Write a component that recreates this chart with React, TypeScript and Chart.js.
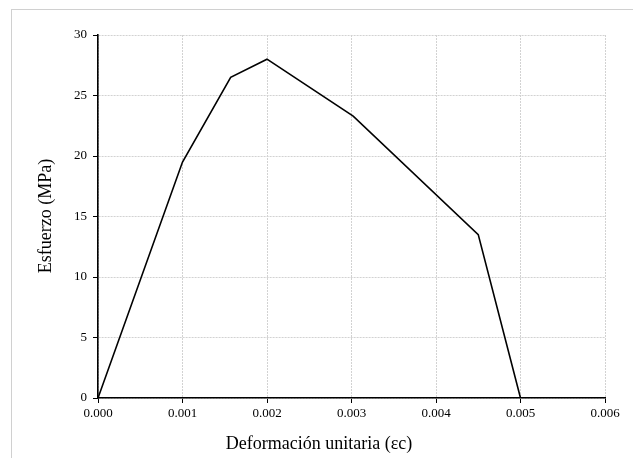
import React, { useEffect, useRef } from "react";
import { Chart, registerables } from "chart.js";

Chart.register(...registerables);

const strainValues = [0, 0.001, 0.00157, 0.002, 0.00302, 0.0045, 0.005];
const stressValues = [0, 19.5, 26.5, 28.0, 23.3, 13.5, 0];
const xTitle = "Deformación unitaria (εc)";
const yTitle = "Esfuerzo (MPa)";

const FONT = "'Liberation Serif', 'Times New Roman', serif";

const titlePlugin = {
  id: "customTitles",
  afterDraw(chart: any) {
    const ctx = chart.ctx;
    ctx.save();
    ctx.fillStyle = "#000";
    ctx.font = `18px ${FONT}`;
    ctx.textAlign = "center";
    ctx.textBaseline = "alphabetic";
    ctx.fillText(xTitle, 319, 449);
    ctx.translate(51, 216);
    ctx.rotate(-Math.PI / 2);
    ctx.fillText(yTitle, 0, 0);
    ctx.restore();
  },
};

export default function App() {
  const ref = useRef<HTMLCanvasElement>(null);
  useEffect(() => {
    if (!ref.current) return;
    const data = strainValues.map((x, i) => ({ x, y: stressValues[i] }));
    const gridOpts: any = {
      color: "#d2d2d2",
      lineWidth: 1,
      tickColor: "#000",
      tickBorderDash: [],
      tickLength: 5,
      tickWidth: 1,
    };
    const borderOpts: any = { display: true, color: "#000", width: 1.6, dash: [2, 1] };
    const chart = new Chart(ref.current, {
      type: "scatter",
      data: {
        datasets: [
          {
            data,
            showLine: true,
            borderColor: "#000",
            borderWidth: 1.6,
            pointRadius: 0,
            tension: 0,
            fill: false,
          },
        ],
      },
      options: {
        responsive: false,
        animation: false,
        layout: { padding: { top: 35, right: 28, left: 0, bottom: 0 } },
        plugins: { legend: { display: false }, tooltip: { enabled: false } },
        scales: {
          x: {
            type: "linear",
            min: 0,
            max: 0.006,
            afterFit(scale: any) {
              scale.height = 60;
            },
            ticks: {
              stepSize: 0.001,
              color: "#000",
              font: { family: FONT, size: 13 },
              padding: 3,
              maxRotation: 0,
              callback: (v: any) => Number(v).toFixed(3),
            },
            grid: gridOpts,
            border: borderOpts,
          },
          y: {
            type: "linear",
            min: 0,
            max: 30,
            afterFit(scale: any) {
              scale.width = 98;
            },
            ticks: {
              stepSize: 5,
              color: "#000",
              font: { family: FONT, size: 13 },
              padding: 6,
            },
            grid: gridOpts,
            border: borderOpts,
          },
        },
      },
      plugins: [titlePlugin],
    });
    return () => chart.destroy();
  }, []);

  return (
    <div style={{ position: "fixed", left: 0, top: 0, width: 633, height: 458, background: "#fff", overflow: "hidden" }}>
      <div
        style={{
          position: "absolute",
          left: 11,
          top: 9,
          width: 700,
          height: 600,
          border: "1px solid #d0d0d0",
        }}
      />
      <canvas ref={ref} width={633} height={458} style={{ position: "absolute", left: 0, top: 0 }} />
    </div>
  );
}
